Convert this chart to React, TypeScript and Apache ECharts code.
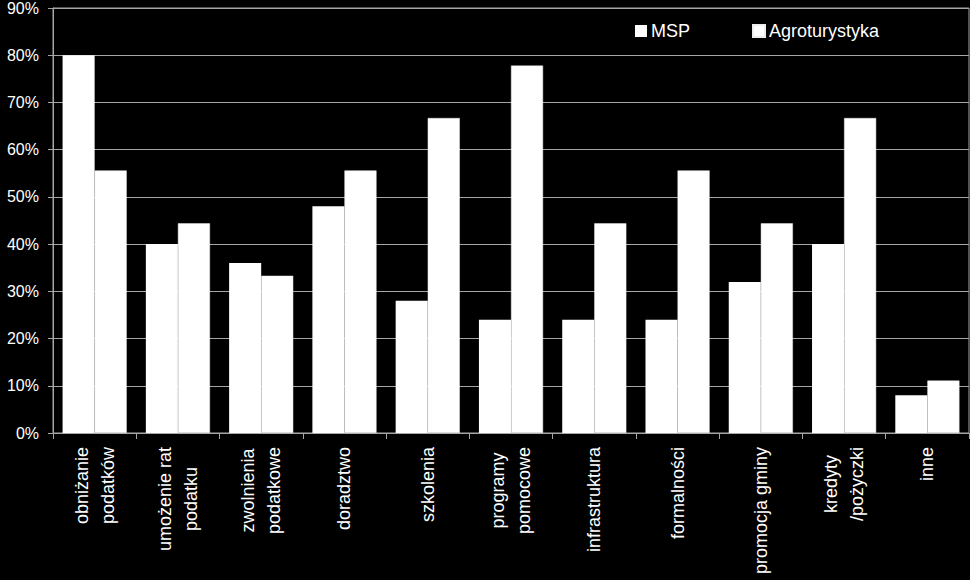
import React, { useEffect, useRef } from "react";
import * as echarts from "echarts";

const categories = [
  "obniżanie\npodatków",
  "umożenie rat\npodatku",
  "zwolnienia\npodatkowe",
  "doradztwo",
  "szkolenia",
  "programy\npomocowe",
  "infrastruktura",
  "formalności",
  "promocja gminy",
  "kredyty\n/pożyczki",
  "inne",
];
const mspValues = [80, 40, 36, 48, 28, 24, 24, 24, 32, 40, 8];
const agroValues = [55.6, 44.4, 33.3, 55.6, 66.7, 77.8, 44.4, 55.6, 44.4, 66.7, 11.1];
const seriesNames = ["MSP", "Agroturystyka"];

const FONT = "'Liberation Sans', Arial, sans-serif";
const GRID_COLOR = "#a6a6a6";

export default function App() {
  const ref = useRef<HTMLDivElement>(null);
  useEffect(() => {
    if (!ref.current) return;
    const chart = echarts.init(ref.current, undefined, { renderer: "svg" });
    chart.setOption({
      animation: false,
      backgroundColor: "#000000",
      textStyle: { fontFamily: FONT },
      grid: {
        left: 53,
        right: 1,
        top: 6,
        bottom: 147,
        show: true,
        borderColor: GRID_COLOR,
        borderWidth: 1,
        containLabel: false,
      },
      legend: {
        left: 635,
        top: 22,
        padding: 0,
        itemWidth: 12,
        itemHeight: 12,
        itemGap: 62,
        icon: "rect",
        textStyle: { color: "#ffffff", fontSize: 18, fontFamily: FONT, padding: [0, 0, 0, -1] },
        data: seriesNames,
      },
      xAxis: {
        type: "category",
        data: categories,
        axisLine: { show: true, lineStyle: { color: GRID_COLOR, width: 1 } },
        axisTick: { show: true, length: 6, alignWithLabel: false, lineStyle: { color: GRID_COLOR } },
        axisLabel: {
          interval: 0,
          rotate: 90,
          margin: 14,
          color: "#ffffff",
          fontSize: 18,
          fontFamily: FONT,
          lineHeight: 26,
          formatter: (v: string) =>
            v
              .split("\n")
              .map((l) => "{c|" + l + "}")
              .join("\n"),
          rich: {
            c: { align: "center", color: "#ffffff", fontSize: 18, fontFamily: FONT, lineHeight: 26 },
          },
        },
      },
      yAxis: {
        type: "value",
        min: 0,
        max: 90,
        interval: 10,
        axisLine: { show: true, lineStyle: { color: GRID_COLOR, width: 1 } },
        axisTick: { show: true, length: 5, lineStyle: { color: GRID_COLOR } },
        axisLabel: {
          formatter: "{value}%",
          color: "#ffffff",
          fontSize: 16,
          fontFamily: FONT,
          margin: 14,
        },
        splitLine: { show: true, lineStyle: { color: GRID_COLOR, width: 1 } },
      },
      series: [
        {
          name: seriesNames[0],
          type: "bar",
          data: mspValues,
          barGap: "0%",
          barCategoryGap: "23%",
          itemStyle: { color: "#ffffff" },
        },
        {
          name: seriesNames[1],
          type: "bar",
          data: agroValues,
          barGap: "0%",
          barCategoryGap: "23%",
          itemStyle: { color: "#ffffff", borderColor: "#ededed", borderWidth: 0.5 },
        },
      ],
    });
    return () => chart.dispose();
  }, []);
  return (
    <div
      ref={ref}
      style={{ position: "fixed", left: 0, top: 0, width: 970, height: 580, background: "#000" }}
    />
  );
}
